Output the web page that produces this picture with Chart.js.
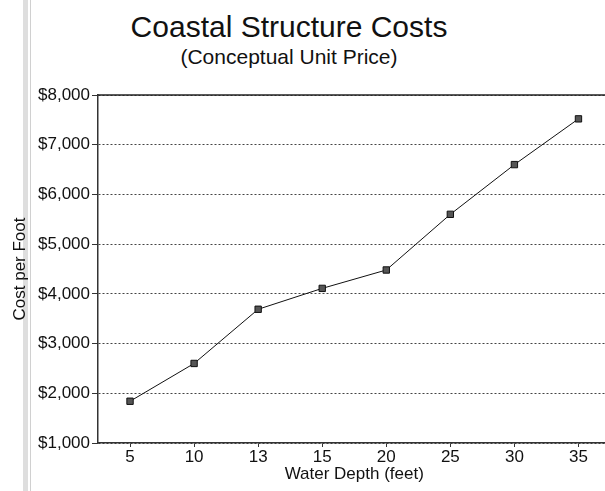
<!DOCTYPE html>
<html>
<head>
<meta charset="utf-8">
<script src="https://cdn.jsdelivr.net/npm/chart.js@4/dist/chart.umd.min.js"></script>
<style>
  html, body { margin: 0; padding: 0; background: #fff; overflow: hidden; }
  #wrap { position: relative; width: 605px; height: 491px; overflow: hidden; }
  #stripe { position: absolute; left: 23px; top: 0; width: 5px; height: 491px; background: #dedede; }
  #stripe2 { position: absolute; left: 30px; top: 0; width: 1px; height: 491px; background: #d0d0d0; }
  .ttl { position: absolute; left: 0; width: 578px; text-align: center; color: #111;
         font-family: "Liberation Sans", Arial, sans-serif; white-space: nowrap; }
  #title { top: 12px; font-size: 30px; line-height: 30px; }
  #subtitle { top: 46px; font-size: 21px; line-height: 21px; }
  canvas { position: absolute; left: 0; top: 0; }
</style>
</head>
<body>
<div id="wrap">
  <div id="stripe"></div>
  <div id="stripe2"></div>
  <div class="ttl" id="title">Coastal Structure Costs</div>
  <div class="ttl" id="subtitle">(Conceptual Unit Price)</div>
  <canvas id="costChart" width="616" height="491"></canvas>
</div>
<script>
// Water depth categories (feet)
const depths = ['5', '10', '13', '15', '20', '25', '30', '35'];
// Cost per foot
const costPerFoot = [1840, 2600, 3690, 4110, 4480, 5600, 6600, 7520];
// y axis range
const yMin = 1000;
const yMax = 8000;
const yStep = 1000;

const FONT = 'Liberation Sans';

// solid line across the top of the plot (the frame), grid lines below it are dotted
const topLine = {
  id: 'topLine',
  afterDraw(chart) {
    const { ctx, chartArea } = chart;
    ctx.save();
    ctx.strokeStyle = '#222';
    ctx.lineWidth = 1.5;
    ctx.beginPath();
    ctx.moveTo(chartArea.left, chartArea.top);
    ctx.lineTo(chartArea.right, chartArea.top);
    ctx.stroke();
    ctx.restore();
  }
};

const ctx = document.getElementById('costChart').getContext('2d');
new Chart(ctx, {
  type: 'line',
  data: {
    labels: depths,
    datasets: [{
      label: 'Cost per Foot',
      data: costPerFoot,
      borderColor: '#111',
      borderWidth: 1,
      pointStyle: 'rect',
      pointRadius: 4.5,
      pointBackgroundColor: '#555',
      pointBorderColor: '#111',
      pointBorderWidth: 1,
      tension: 0,
      fill: false,
    }],
  },
  options: {
    responsive: false,
    animation: false,
    layout: { padding: { top: 95, left: 0, right: 0, bottom: 0 } },
    plugins: {
      legend: { display: false },
      tooltip: { enabled: false },
    },
    scales: {
      x: {
        offset: true,
        afterFit: (scale) => { scale.height = 48; },
        grid: {
          drawOnChartArea: false,
          drawTicks: true,
          tickLength: 4,
          color: '#333',
        },
        border: { display: true, color: '#333', width: 1.5 },
        ticks: {
          color: '#111',
          padding: 0,
          font: { family: FONT, size: 17 },
        },
        title: {
          display: true,
          text: 'Water Depth (feet)',
          color: '#111',
          padding: { top: 0, bottom: 6 },
          font: { family: FONT, size: 17 },
        },
      },
      y: {
        min: yMin,
        max: yMax,
        afterFit: (scale) => { scale.width = 98; },
        grid: {
          color: '#444',
          lineWidth: 1,
          tickLength: 6,
          tickColor: '#333',
          tickBorderDash: [],
        },
        border: { display: true, color: '#333', width: 1.5, dash: [2, 2] },
        ticks: {
          stepSize: yStep,
          color: '#111',
          padding: 2,
          font: { family: FONT, size: 17 },
          callback: (v) => '$' + Number(v).toLocaleString('en-US'),
        },
        title: {
          display: true,
          text: 'Cost per Foot',
          color: '#111',
          padding: { top: 10, bottom: 0 },
          font: { family: FONT, size: 17 },
        },
      },
    },
  },
  plugins: [topLine],
});
</script>
</body>
</html>
